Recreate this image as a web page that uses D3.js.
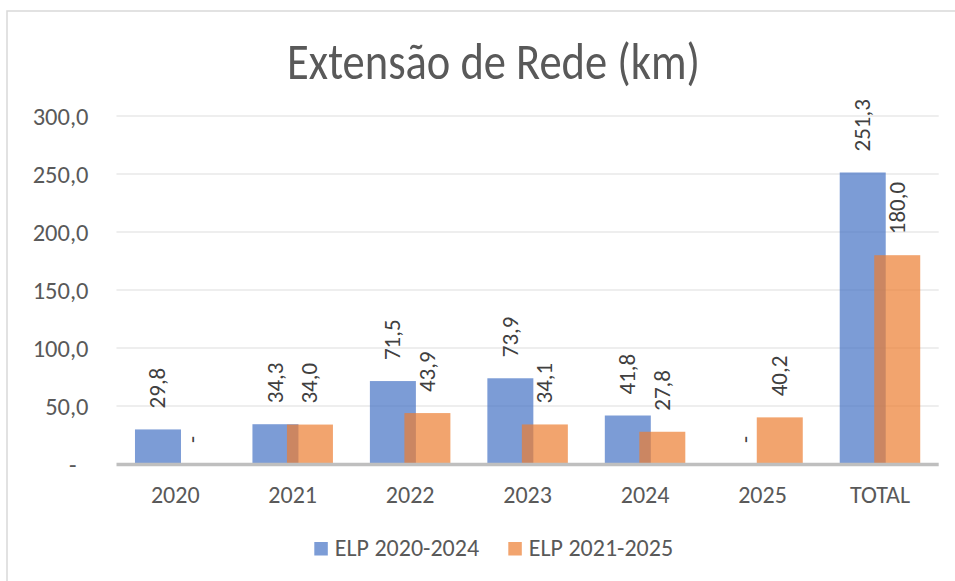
<!DOCTYPE html>
<html><head><meta charset="utf-8">
<script src="https://cdn.jsdelivr.net/npm/d3@7"></script>
<style>
body{margin:0;background:#fff}
text{font-family:Carlito,'Liberation Sans',sans-serif}
</style>
</head><body>
<svg id="chart" width="955" height="581"></svg>
<script>
// ---- data ----
const categories = ["2020","2021","2022","2023","2024","2025","TOTAL"];
const seriesNames = ["ELP 2020-2024","ELP 2021-2025"];
const elp2020_2024 = [29.8, 34.3, 71.5, 73.9, 41.8, 0, 251.3];
const elp2021_2025 = [0, 34.0, 43.9, 34.1, 27.8, 40.2, 180.0];
const yTicks = [0, 50, 100, 150, 200, 250, 300];
const colors = ["#4472C4", "#ED7D31"];
const titleText = "Extensão de Rede (km)";

const svg = d3.select("#chart");
const W = 955, H = 581;

// chart border (only top/left visible in reference)
svg.append("rect").attr("x",7).attr("y",11).attr("width",1200).attr("height",1200)
  .attr("fill","none").attr("stroke","#D9D9D9").attr("stroke-width",1.5);

const plot = {left:116.5, right:938.7, top:116, bottom:464};

const x = d3.scaleBand().domain(categories).range([plot.left, plot.right]).padding(0);
const y = d3.scaleLinear().domain([0,300]).range([plot.bottom, plot.top]);

const fmt = v => v === 0 ? "-" : d3.format(".1f")(v).replace(".", ",");

// gridlines
svg.append("g").selectAll("line").data(yTicks.filter(d=>d>0)).join("line")
  .attr("x1",plot.left).attr("x2",plot.right)
  .attr("y1",d=>y(d)).attr("y2",d=>y(d))
  .attr("stroke","#E8E8E8").attr("stroke-width",1.5);

// y axis labels
const yAxis = d3.axisLeft(y).tickValues(yTicks).tickFormat(fmt).tickSize(0).tickPadding(0);
const yg = svg.append("g").attr("transform",`translate(88.5,0)`).call(yAxis);
yg.select(".domain").remove();
yg.selectAll("text").attr("fill","#595959").style("font-size","24.5px")
  .attr("dy","0.33em")
  .attr("x", d => d === 0 ? -12 : 0);

// bars
const barW = 46, step = 34.5;
const groupW = barW + step;
const off = (x.bandwidth() - groupW) / 2;
const series = [elp2020_2024, elp2021_2025];

series.forEach((vals, si) => {
  const g = svg.append("g");
  g.selectAll("rect").data(vals.map((v,i)=>({v, c:categories[i]})).filter(d=>d.v>0)).join("rect")
    .attr("x", d => x(d.c) + off + si*step)
    .attr("width", barW)
    .attr("y", d => y(d.v))
    .attr("height", d => y(0) - y(d.v))
    .attr("fill", colors[si]).attr("fill-opacity", 0.7);
});

// baseline axis
svg.append("line").attr("x1",plot.left).attr("x2",plot.right)
  .attr("y1",y(0)+0.5).attr("y2",y(0)+0.5)
  .attr("stroke","#BFBFBF").attr("stroke-width",3.3);

// data labels
series.forEach((vals, si) => {
  svg.append("g").selectAll("text").data(vals.map((v,i)=>({v, c:categories[i]}))).join("text")
    .attr("transform", d => `translate(${x(d.c) + off + si*step + barW/2},${y(d.v) - 21}) rotate(-90)`)
    .attr("dy","0.32em")
    .attr("text-anchor","start")
    .attr("fill","#404040").style("font-size","23px")
    .text(d => fmt(d.v));
});

// x axis labels
const xAxis = d3.axisBottom(x).tickSize(0).tickPadding(0);
const xg = svg.append("g").attr("transform",`translate(0,503)`).call(xAxis);
xg.select(".domain").remove();
xg.selectAll("text").attr("fill","#595959").style("font-size","24px").attr("dy","0").attr("y",0);

// title
svg.append("text").attr("x",(287+700)/2).attr("y",79)
  .attr("text-anchor","middle").attr("fill","#595959")
  .style("font-size","52px")
  .attr("textLength",413).attr("lengthAdjust","spacingAndGlyphs")
  .text(titleText);

// legend
const legendX = [314.3, 508.3];
const lg = svg.append("g");
seriesNames.forEach((name, i) => {
  lg.append("rect").attr("x",legendX[i]).attr("y",542).attr("width",13.5).attr("height",13.5)
    .attr("fill",colors[i]).attr("fill-opacity",0.7);
  lg.append("text").attr("x",legendX[i]+20.5).attr("y",556)
    .attr("fill","#595959").style("font-size","24px").text(name);
});
</script></body></html>
